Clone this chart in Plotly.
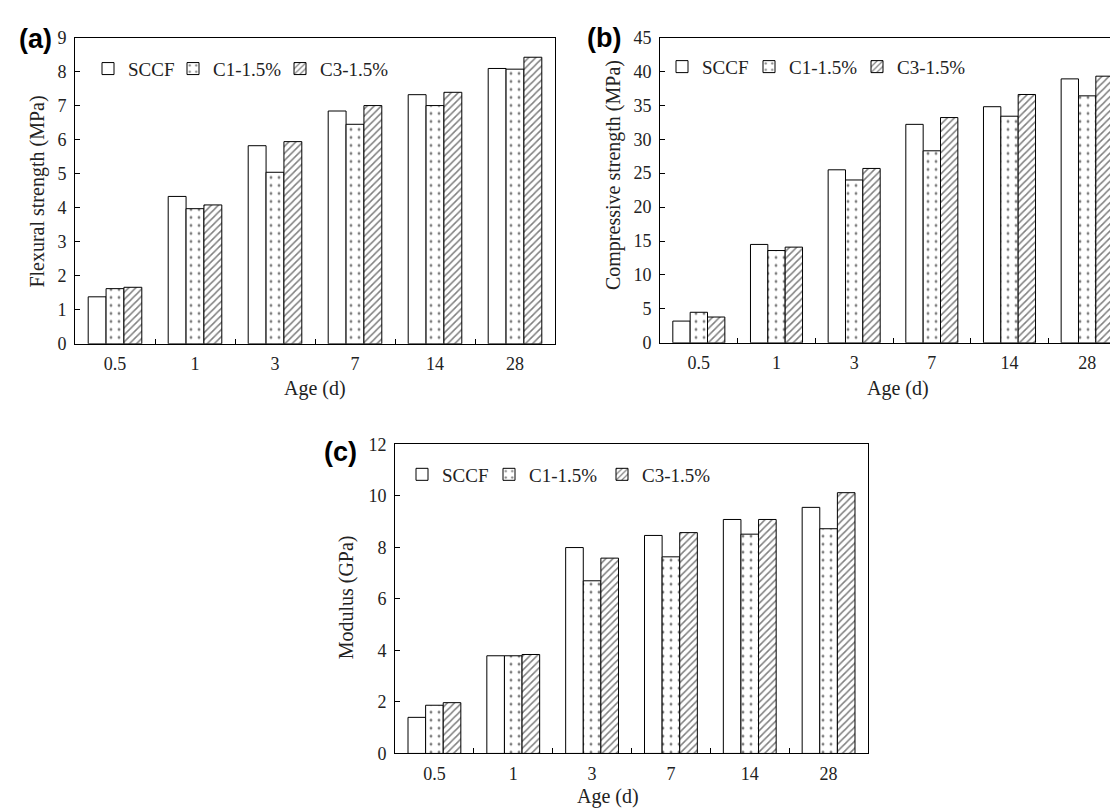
import plotly.graph_objects as go

# ---------------- data ----------------
ages = ["0.5", "1", "3", "7", "14", "28"]
series_names = ["SCCF", "C1-1.5%", "C3-1.5%"]

flexural_sccf = [1.38, 4.33, 5.82, 6.84, 7.32, 8.09]
flexural_c1 = [1.62, 3.97, 5.04, 6.45, 7.00, 8.07]
flexural_c3 = [1.66, 4.08, 5.94, 7.00, 7.39, 8.42]

compressive_sccf = [3.2, 14.5, 25.5, 32.2, 34.8, 38.9]
compressive_c1 = [4.5, 13.6, 24.0, 28.3, 33.4, 36.4]
compressive_c3 = [3.8, 14.1, 25.7, 33.2, 36.6, 39.3]

modulus_sccf = [1.40, 3.79, 7.99, 8.46, 9.08, 9.55]
modulus_c1 = [1.87, 3.79, 6.70, 7.63, 8.51, 8.72]
modulus_c3 = [1.97, 3.84, 7.58, 8.57, 9.08, 10.12]

W, H = 1118, 812
SERIF = "Liberation Serif, Times New Roman, serif"


def px_x(p):
    return p / W


def px_y(p):
    return 1 - p / H


patterns = [
    dict(shape=""),
    dict(shape=".", fgcolor="black", bgcolor="white", size=8, solidity=0.1),
    dict(shape="/", fgcolor="black", bgcolor="white", size=5, solidity=0.3),
]

# legend entry positions (px): left x of each entry, and legend row y
legend_pos = [
    ([80, 165, 272], 52),
    ([654, 741, 849], 50),
    ([394, 481, 594], 468),
]

fig = go.Figure()

panels = [
    ("x", "y", [flexural_sccf, flexural_c1, flexural_c3]),
    ("x2", "y2", [compressive_sccf, compressive_c1, compressive_c3]),
    ("x3", "y3", [modulus_sccf, modulus_c1, modulus_c3]),
]

legend_layouts = {}
n = 0
for (xa, ya, vals), (xs, ly) in zip(panels, legend_pos):
    for name, v, pat, lx in zip(series_names, vals, patterns, xs):
        n += 1
        lg = "legend" if n == 1 else "legend%d" % n
        fig.add_trace(go.Bar(
            x=ages, y=v, name=name, xaxis=xa, yaxis=ya, legend=lg, showlegend=True,
            marker=dict(color="white", line=dict(color="black", width=1), pattern=pat),
        ))
        legend_layouts[lg] = dict(
            orientation="h", xanchor="left", yanchor="middle", bgcolor="rgba(0,0,0,0)",
            font=dict(family=SERIF, size=19, color="#222"), itemwidth=30,
            x=px_x(lx), y=px_y(ly), visible=True,
        )

axis_common = dict(
    showline=True, linecolor="black", linewidth=1, showgrid=False, zeroline=False,
    ticks="inside", ticklen=5, tickcolor="black",
    tickfont=dict(family=SERIF, size=18, color="#222"),
)

xcommon = dict(axis_common, type="category", tickson="boundaries", ticklabelstandoff=4)

fig.update_layout(
    width=W, height=H,
    margin=dict(l=0, r=0, t=0, b=0),
    paper_bgcolor="white", plot_bgcolor="white",
    showlegend=True,
    barmode="group", bargap=0.33, bargroupgap=0,
    font=dict(family=SERIF, color="#222"),
    xaxis=dict(xcommon, domain=[px_x(67), px_x(547)], anchor="y", mirror=True),
    yaxis=dict(axis_common, domain=[px_y(334), px_y(20)], anchor="x", range=[0, 9], dtick=1,
               mirror=True, ticklabelstandoff=4),
    xaxis2=dict(xcommon, domain=[px_x(652), 1.0], anchor="y2", mirror=True),
    yaxis2=dict(axis_common, domain=[px_y(333), px_y(20)], anchor="x2", range=[0, 45], dtick=5,
                ticklabelstandoff=4),
    xaxis3=dict(xcommon, domain=[px_x(387), px_x(860)], anchor="y3", mirror=True),
    yaxis3=dict(axis_common, domain=[px_y(754), px_y(437)], anchor="x3", range=[0, 12], dtick=2,
                mirror=True, ticklabelstandoff=4),
    **legend_layouts,
)

annos = []
# panel letters
for txt, x, y in [("(a)", 27, 22), ("(b)", 596, 20), ("(c)", 332, 445)]:
    annos.append(dict(text="<b>" + txt + "</b>", x=px_x(x), y=px_y(y), xref="paper", yref="paper",
                      showarrow=False, xanchor="center", yanchor="middle",
                      font=dict(family="Liberation Sans, Arial, sans-serif", size=27, color="black")))
# y axis titles
for txt, x, y in [("Flexural strength (MPa)", 30, 178), ("Compressive strength (MPa)", 605, 161),
                  ("Modulus (GPa)", 338, 594)]:
    annos.append(dict(text=txt, x=px_x(x), y=px_y(y), xref="paper", yref="paper", textangle=-90,
                      showarrow=False, xanchor="center", yanchor="middle",
                      font=dict(family=SERIF, size=20, color="#222")))
# x axis titles
for x, y in [(307, 380), (890, 380), (600, 798)]:
    annos.append(dict(text="Age (d)", x=px_x(x), y=px_y(y), xref="paper", yref="paper",
                      showarrow=False, xanchor="center", yanchor="middle",
                      font=dict(family=SERIF, size=20, color="#222")))
fig.update_layout(annotations=annos)

fig.write_html("out.html")
